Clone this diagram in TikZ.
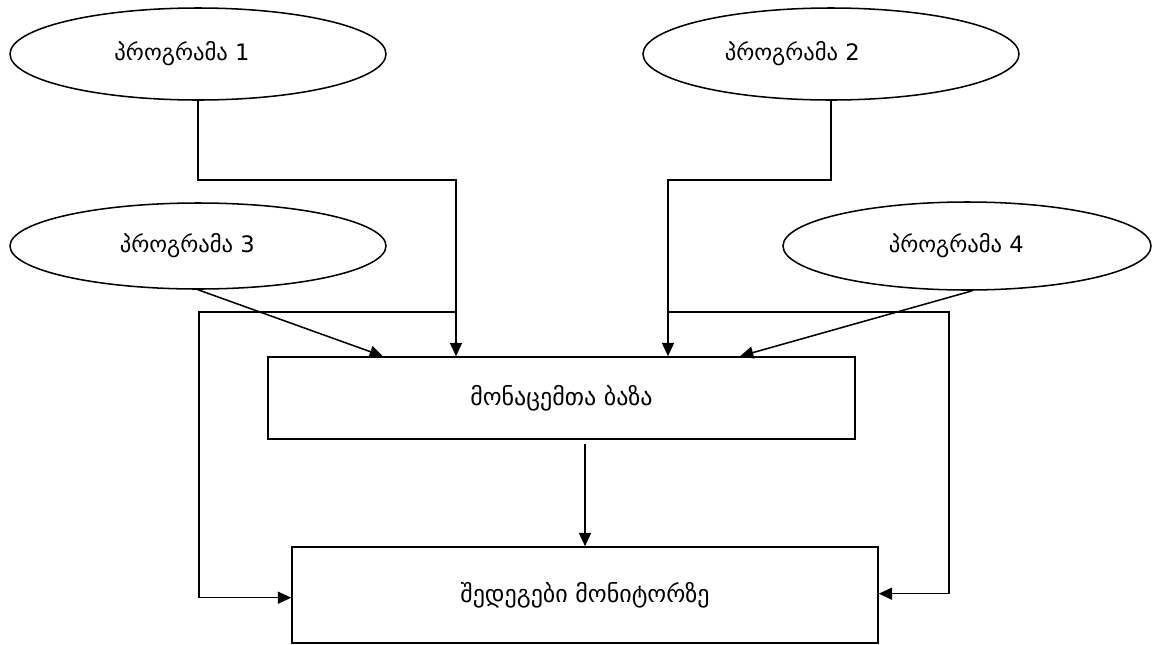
\documentclass[tikz,border=0pt]{standalone}
\usepackage{fontspec}
\setmainfont{DejaVu Sans}
\usetikzlibrary{shapes.geometric,arrows.meta}
\begin{document}
\begin{tikzpicture}[x=0.75pt,y=-0.75pt,line width=1.15pt,
  every node/.style={font=\fontsize{17}{20}\selectfont},
  prog/.style={ellipse,draw,inner sep=0pt,minimum width=282pt,minimum height=69pt},
  boxn/.style={rectangle,draw,inner sep=0pt,font=\fontsize{18}{21}\selectfont},
  arr/.style={-{Triangle[length=10pt,width=9pt]}}]
\useasboundingbox (0,0) rectangle (1160,644);
% programs
\node[prog,label={[xshift=-12pt]center:პროგრამა 1}] (e1) at (198,54) {};
\node[prog,label={[xshift=-29pt]center:პროგრამა 2}] (e2) at (831,54) {};
\node[prog,minimum height=64.5pt,label={[xshift=-8pt]center:პროგრამა 3}] (e3) at (198,246) {};
\node[prog,minimum width=276pt,minimum height=66pt,label={[xshift=-8pt]center:პროგრამა 4}] (e4) at (967,246) {};
% boxes
\node[boxn,minimum width=440pt,minimum height=61.5pt] (db) at (561.5,398) {მონაცემთა ბაზა};
\node[boxn,minimum width=439.5pt,minimum height=72pt] (res) at (585,595) {შედეგები მონიტორზე};
% junction coordinates
\coordinate (j1) at (456,180);
\coordinate (j2) at (668,180);
\coordinate (a3) at (383,357);
\coordinate (a4) at (740,357);
\coordinate (h1) at (456,312);
\coordinate (h2) at (668,312);
\coordinate (l1) at (199,312);
\coordinate (r1) at (949,312);
% connectors
\draw[arr] (e1.south) |- (j1) -- (j1 |- db.north);
\draw[arr] (e2.south) |- (j2) -- (j2 |- db.north);
\draw[arr] (e3.south) -- (a3 |- db.north);
\draw[arr] ([xshift=4pt]e4.south) -- (a4 |- db.north);
\draw[arr] (h1) -- (l1) |- ([yshift=-2pt]res.west);
\draw[arr] (h2) -- (r1) |- ([yshift=1pt]res.east);
\draw[arr,shorten <=3pt] (db.south -| res.north) -- (res.north);
\end{tikzpicture}
\end{document}
